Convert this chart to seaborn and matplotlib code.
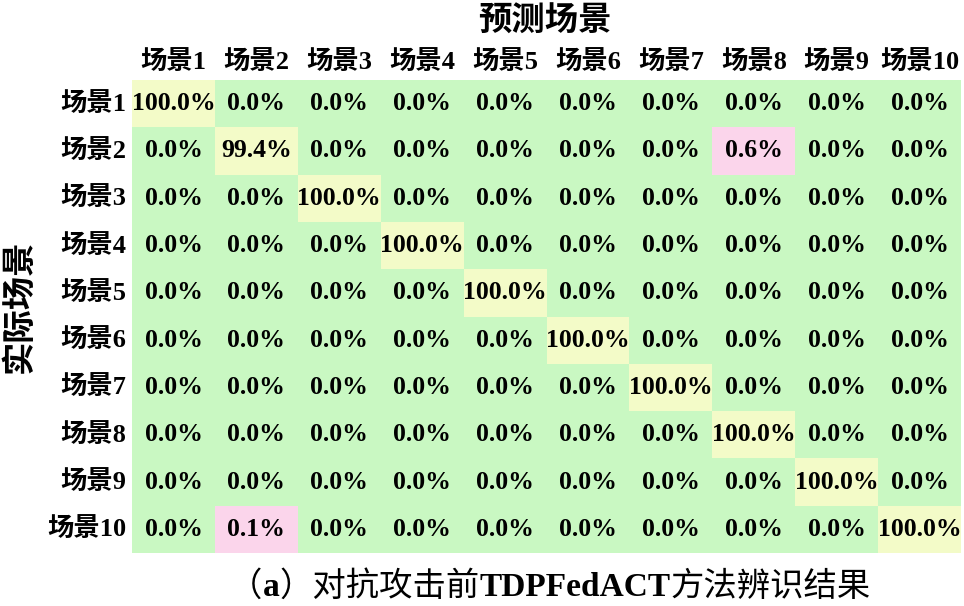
import numpy as np
import pandas as pd
import matplotlib
matplotlib.use('Agg')
import matplotlib.pyplot as plt
from matplotlib.colors import ListedColormap
import seaborn as sns

# scene labels
scenes = ['场景1', '场景2', '场景3', '场景4', '场景5',
          '场景6', '场景7', '场景8', '场景9', '场景10']

# recognition rate (%) per actual scene (rows) vs predicted scene (cols)
row1 = [100.0, 0.0, 0.0, 0.0, 0.0, 0.0, 0.0, 0.0, 0.0, 0.0]
row2 = [0.0, 99.4, 0.0, 0.0, 0.0, 0.0, 0.0, 0.6, 0.0, 0.0]
row3 = [0.0, 0.0, 100.0, 0.0, 0.0, 0.0, 0.0, 0.0, 0.0, 0.0]
row4 = [0.0, 0.0, 0.0, 100.0, 0.0, 0.0, 0.0, 0.0, 0.0, 0.0]
row5 = [0.0, 0.0, 0.0, 0.0, 100.0, 0.0, 0.0, 0.0, 0.0, 0.0]
row6 = [0.0, 0.0, 0.0, 0.0, 0.0, 100.0, 0.0, 0.0, 0.0, 0.0]
row7 = [0.0, 0.0, 0.0, 0.0, 0.0, 0.0, 100.0, 0.0, 0.0, 0.0]
row8 = [0.0, 0.0, 0.0, 0.0, 0.0, 0.0, 0.0, 100.0, 0.0, 0.0]
row9 = [0.0, 0.0, 0.0, 0.0, 0.0, 0.0, 0.0, 0.0, 100.0, 0.0]
row10 = [0.0, 0.1, 0.0, 0.0, 0.0, 0.0, 0.0, 0.0, 0.0, 100.0]

values = np.array([row1, row2, row3, row4, row5, row6, row7, row8, row9, row10])
df = pd.DataFrame(values, index=scenes, columns=scenes)

# colour class: 0 -> green, small misclassification -> pink, correct -> yellow
cls = np.where(values == 0, 0, np.where(values >= 50, 2, 1))
cmap = ListedColormap(['#C9F8C2', '#FBD5EB', '#F3FBC8'])
annot = df.map(lambda v: f'{v:.1f}%')

fonts = ['Liberation Serif', 'Noto Sans CJK SC']

fig = plt.figure(figsize=(9.64, 6.06), dpi=100)
ax = fig.add_axes([132 / 964, 1 - 553 / 606, 829 / 964, 473 / 606])
sns.heatmap(cls, ax=ax, cmap=cmap, vmin=-0.5, vmax=2.5, cbar=False,
            annot=annot.values, fmt='', xticklabels=scenes, yticklabels=scenes,
            annot_kws={'fontsize': 18.5, 'fontweight': 'bold', 'family': fonts, 'color': 'black'})

ax.xaxis.tick_top()
ax.tick_params(length=0, pad=4)
for lab in ax.get_xticklabels() + ax.get_yticklabels():
    lab.set_family(fonts)
    lab.set_fontsize(19)
    lab.set_fontweight('bold')
    lab.set_rotation(0)

fig.text(545 / 964, 1 - 22 / 606, '预测场景', ha='center', va='center',
         fontsize=24, fontweight='bold', family=fonts)
fig.text(20 / 964, 1 - 306 / 606, '实际场景', ha='center', va='center', rotation=90,
         fontsize=24, fontweight='bold', family=fonts)

# caption: Chinese regular, latin parts bold
caption = [('（', 'normal'), ('a', 'bold'), ('）对抗攻击前', 'normal'),
           ('TDPFedACT', 'bold'), ('方法辨识结果', 'normal')]
renderer = fig.canvas.get_renderer()
parts = []
for s, w in caption:
    t = fig.text(0, 1 - 587 / 606, s, ha='left', va='center', fontsize=24,
                 fontweight=w, family=fonts)
    parts.append(t)
widths = [t.get_window_extent(renderer).width for t in parts]
x = 550 - sum(widths) / 2
for t, wd in zip(parts, widths):
    t.set_x(x / 964)
    x += wd

fig.savefig('out.png', dpi=100)
